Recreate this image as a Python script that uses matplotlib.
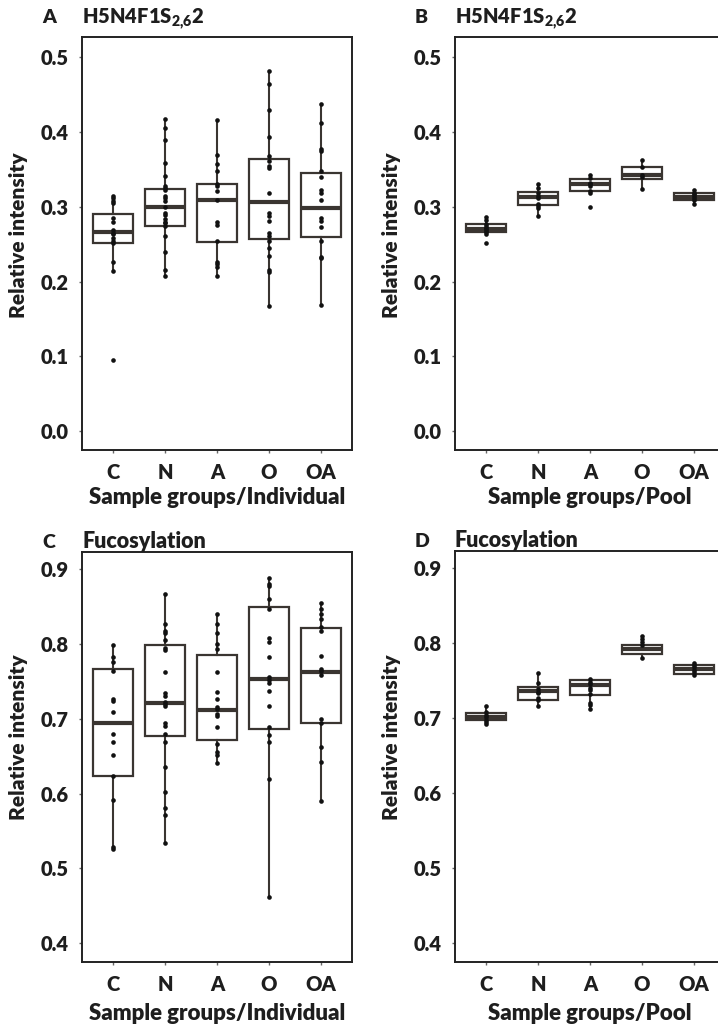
import matplotlib
matplotlib.use("Agg")
import matplotlib.pyplot as plt

WEIGHT = 'heavy'
plt.rcParams['font.family'] = ['Lato', 'DejaVu Sans']
plt.rcParams['font.weight'] = WEIGHT
plt.rcParams['axes.labelweight'] = WEIGHT
plt.rcParams['mathtext.fontset'] = 'custom'
plt.rcParams['mathtext.rm'] = 'Lato:' + WEIGHT
plt.rcParams['mathtext.bf'] = 'Lato:' + WEIGHT

groups = ['C', 'N', 'A', 'O', 'OA']

# A: H5N4F1S2,6 2 - individual samples
h5_ind_points = [
    [0.3147, 0.3116, 0.308, 0.3057, 0.2849, 0.2791, 0.2689, 0.2657, 0.2636, 0.2577, 0.2547, 0.2516, 0.2257, 0.2147, 0.0956],
    [0.4169, 0.4057, 0.3889, 0.3591, 0.3413, 0.328, 0.3258, 0.3222, 0.3147, 0.3116, 0.308, 0.3004, 0.2924, 0.2893,
     0.2836, 0.2804, 0.2778, 0.2747, 0.2613, 0.24, 0.2156, 0.208],
    [0.416, 0.3689, 0.3569, 0.348, 0.3311, 0.328, 0.3213, 0.3093, 0.2791, 0.276, 0.2547, 0.2257, 0.2231, 0.2196, 0.2076],
    [0.4822, 0.4636, 0.4293, 0.3933, 0.368, 0.3613, 0.3547, 0.3516, 0.3191, 0.2911, 0.2871, 0.2813, 0.2644, 0.2613,
     0.2547, 0.2449, 0.2347, 0.2156, 0.2124, 0.168],
    [0.4369, 0.4124, 0.3769, 0.3747, 0.348, 0.34, 0.3222, 0.3191, 0.3093, 0.2849, 0.2813, 0.2737, 0.2547, 0.2333,
     0.2316, 0.1693],
]
h5_ind_q3 = [0.2902, 0.3244, 0.3311, 0.3636, 0.3458]
h5_ind_med = [0.2667, 0.300, 0.3093, 0.3058, 0.2978]
h5_ind_q1 = [0.2516, 0.2747, 0.2533, 0.2564, 0.2591]
h5_ind_hi = [0.3147, 0.4169, 0.416, 0.4822, 0.4369]
h5_ind_lo = [0.2147, 0.208, 0.2076, 0.168, 0.1693]

# B: H5N4F1S2,6 2 - pools
h5_pool_points = [
    [0.2858, 0.2827, 0.277, 0.274, 0.272, 0.270, 0.268, 0.266, 0.264, 0.2511],
    [0.3302, 0.3258, 0.3191, 0.3147, 0.3124, 0.3044, 0.3013, 0.2982, 0.288],
    [0.3422, 0.3391, 0.3324, 0.3302, 0.328, 0.3213, 0.3191, 0.300],
    [0.3622, 0.3538, 0.3422, 0.3396, 0.324],
    [0.3222, 0.3191, 0.3169, 0.3147, 0.3124, 0.3093, 0.3044],
]
h5_pool_q3 = [0.2775, 0.3195, 0.3369, 0.3538, 0.3186]
h5_pool_med = [0.2700, 0.3128, 0.3300, 0.3430, 0.3138]
h5_pool_q1 = [0.2662, 0.3025, 0.3213, 0.3369, 0.3091]
h5_pool_hi = [0.2867, 0.3302, 0.3422, 0.3622, 0.3222]
h5_pool_lo = [0.2636, 0.288, 0.3191, 0.324, 0.3044]

# C: fucosylation - individual samples
fuc_ind_points = [
    [0.7982, 0.7827, 0.776, 0.7631, 0.7262, 0.7231, 0.7084, 0.6796, 0.6693, 0.6516, 0.6231, 0.592, 0.5289, 0.5258],
    [0.8662, 0.8271, 0.8173, 0.8142, 0.8053, 0.7951, 0.792, 0.7627, 0.7338, 0.7307, 0.7227, 0.7196, 0.7173, 0.6938,
     0.6898, 0.6796, 0.6693, 0.636, 0.6027, 0.5804, 0.572, 0.5342],
    [0.8396, 0.8262, 0.8151, 0.7996, 0.7929, 0.7618, 0.7351, 0.7262, 0.7151, 0.7129, 0.7062, 0.7031, 0.6884, 0.6662,
     0.6551, 0.652, 0.6404],
    [0.8884, 0.8796, 0.8773, 0.8604, 0.8462, 0.8076, 0.8031, 0.7827, 0.7551, 0.7516, 0.7471, 0.7373, 0.7173, 0.6884,
     0.6787, 0.6684, 0.6196, 0.4613],
    [0.8551, 0.8462, 0.8396, 0.8329, 0.8227, 0.8173, 0.784, 0.7662, 0.7631, 0.7587, 0.6996, 0.6938, 0.6627, 0.6427,
     0.5907],
]
fuc_ind_q3 = [0.7662, 0.7982, 0.7849, 0.8493, 0.8209]
fuc_ind_med = [0.6938, 0.7209, 0.7116, 0.7524, 0.7627]
fuc_ind_q1 = [0.6231, 0.6769, 0.6716, 0.6862, 0.6938]
fuc_ind_hi = [0.7982, 0.8662, 0.8396, 0.8884, 0.8551]
fuc_ind_lo = [0.5258, 0.5342, 0.6404, 0.4613, 0.5907]

# D: fucosylation - pools
fuc_pool_points = [
    [0.716, 0.7076, 0.7044, 0.7009, 0.6978, 0.6942, 0.6916],
    [0.7596, 0.7462, 0.7382, 0.7351, 0.7329, 0.7262, 0.724, 0.7164],
    [0.7516, 0.7484, 0.7449, 0.7404, 0.7369, 0.7316, 0.7204, 0.7169, 0.7124],
    [0.810, 0.806, 0.8013, 0.7978, 0.7804],
    [0.7738, 0.7707, 0.7676, 0.764, 0.7609, 0.7573],
]
fuc_pool_q3 = [0.707, 0.741, 0.751, 0.798, 0.7705]
fuc_pool_med = [0.7015, 0.7355, 0.7438, 0.7925, 0.766]
fuc_pool_q1 = [0.6975, 0.7235, 0.7302, 0.786, 0.7593]
fuc_pool_hi = [0.716, 0.7596, 0.7516, 0.808, 0.7738]
fuc_pool_lo = [0.6916, 0.7164, 0.7124, 0.7822, 0.7573]

LINE = '#3a3531'
TEXT = '#1e1e1e'
W, H = 718, 1028


def draw_panel(ax, points, q1, med, q3, lo, hi, ylim, yticks, xlabel, xlab_y, ylab_y):
    stats = []
    for i in range(len(groups)):
        stats.append(dict(q1=q1[i], med=med[i], q3=q3[i], whislo=lo[i], whishi=hi[i], fliers=[]))
    pos = list(range(1, len(groups) + 1))
    ax.bxp(stats, positions=pos, widths=0.77, showcaps=False, showfliers=False, patch_artist=True,
           boxprops=dict(facecolor='white', edgecolor=LINE, linewidth=1.6),
           medianprops=dict(color=LINE, linewidth=3.0, solid_capstyle='butt'),
           whiskerprops=dict(color=LINE, linewidth=1.5))
    for i, vals in enumerate(points):
        ax.scatter([pos[i]] * len(vals), vals, s=11, color='#111111', linewidths=0, zorder=4)
    ax.set_xlim(0.4, 5.6)
    ax.set_ylim(*ylim)
    ax.set_yticks(yticks)
    ax.set_yticklabels([f'{t:.1f}' for t in yticks], fontweight=WEIGHT)
    ax.set_xticks(pos)
    ax.set_xticklabels(groups, fontweight=WEIGHT)
    ax.tick_params(axis='both', length=2.5, width=1, color='#666666', labelsize=14.5,
                   labelcolor=TEXT, pad=7)
    for sp in ax.spines.values():
        sp.set_linewidth(1.4)
        sp.set_color('#222222')
    ax.set_xlabel(xlabel, fontsize=16, color=TEXT, fontweight=WEIGHT)
    ax.xaxis.set_label_coords(0.5, xlab_y)
    ax.xaxis.label.set_va('center')
    ax.set_ylabel('Relative intensity', fontsize=15, color=TEXT, fontweight=WEIGHT)
    ax.yaxis.set_label_coords(-0.235, ylab_y)
    ax.yaxis.label.set_va('center')


fig = plt.figure(figsize=(W / 100, H / 100), dpi=100)

axA = fig.add_axes([82 / W, 1 - 450 / H, 270 / W, 413 / H])
axB = fig.add_axes([455 / W, 1 - 450 / H, 270 / W, 413 / H])
axC = fig.add_axes([82 / W, 1 - 962 / H, 270 / W, 410 / H])
axD = fig.add_axes([455 / W, 1 - 962 / H, 270 / W, 411 / H])

ticks_h5 = [0.0, 0.1, 0.2, 0.3, 0.4, 0.5]
ticks_fuc = [0.4, 0.5, 0.6, 0.7, 0.8, 0.9]

draw_panel(axA, h5_ind_points, h5_ind_q1, h5_ind_med, h5_ind_q3, h5_ind_lo, h5_ind_hi,
           (-0.025, 0.527), ticks_h5, 'Sample groups/Individual', -0.114, 0.52)
draw_panel(axB, h5_pool_points, h5_pool_q1, h5_pool_med, h5_pool_q3, h5_pool_lo, h5_pool_hi,
           (-0.025, 0.527), ticks_h5, 'Sample groups/Pool', -0.114, 0.52)
draw_panel(axC, fuc_ind_points, fuc_ind_q1, fuc_ind_med, fuc_ind_q3, fuc_ind_lo, fuc_ind_hi,
           (0.375, 0.9227), ticks_fuc, 'Sample groups/Individual', -0.125, 0.548)
draw_panel(axD, fuc_pool_points, fuc_pool_q1, fuc_pool_med, fuc_pool_q3, fuc_pool_lo, fuc_pool_hi,
           (0.375, 0.9227), ticks_fuc, 'Sample groups/Pool', -0.125, 0.548)

# panel letters and titles
title_h5 = r'H5N4F1S$_{\mathbf{2{,}6}}$2'
title_kw = dict(color=TEXT, va='baseline', fontweight=WEIGHT)
fig.text(42 / W, 1 - 23 / H, 'A', fontsize=14, **title_kw)
fig.text(82 / W, 1 - 23 / H, title_h5, fontsize=14.5, **title_kw)
fig.text(415 / W, 1 - 23 / H, 'B', fontsize=14, **title_kw)
fig.text(455 / W, 1 - 23 / H, title_h5, fontsize=14.5, **title_kw)
fig.text(42 / W, 1 - 548 / H, 'C', fontsize=14, **title_kw)
fig.text(82 / W, 1 - 548 / H, 'Fucosylation', fontsize=15.5, **title_kw)
fig.text(415 / W, 1 - 547 / H, 'D', fontsize=14, **title_kw)
fig.text(455 / W, 1 - 547 / H, 'Fucosylation', fontsize=15.5, **title_kw)

fig.savefig('out.png', dpi=100)
